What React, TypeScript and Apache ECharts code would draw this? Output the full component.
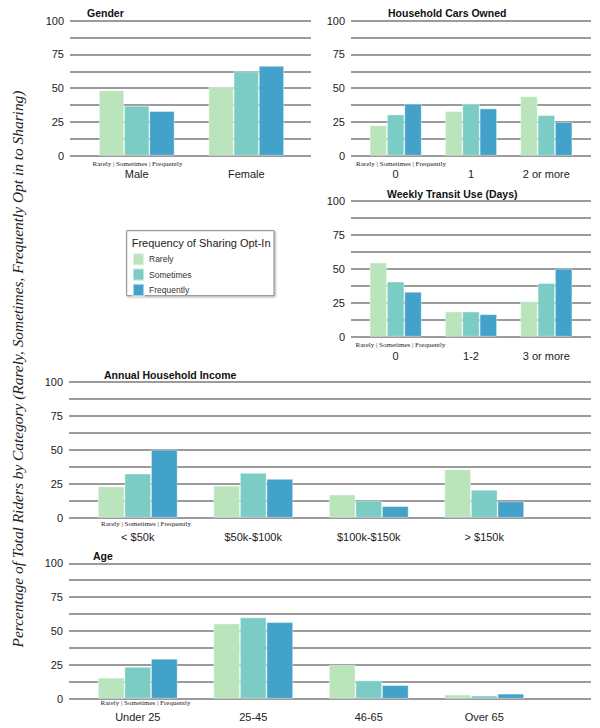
import React, { useEffect, useRef } from "react";
import * as echarts from "echarts";

const seriesNames = ["Rarely", "Sometimes", "Frequently"];
const seriesColors = ["#bae4bc", "#7bccc4", "#43a2ca"];
const minorGridValues = [12.5, 37.5, 62.5, 87.5];

const genderCats = ["Male", "Female"];
const genderRarely = [48.5, 51];
const genderSometimes = [37, 62.5];
const genderFrequently = [33, 66.5];

const carsCats = ["0", "1", "2 or more"];
const carsRarely = [22.5, 33, 44];
const carsSometimes = [30.5, 38.5, 30];
const carsFrequently = [38.5, 35, 25];

const transitCats = ["0", "1-2", "3 or more"];
const transitRarely = [54.5, 18.5, 26];
const transitSometimes = [40.5, 18.5, 39.5];
const transitFrequently = [33, 16.5, 50];

const incomeCats = ["< $50k", "$50k-$100k", "$100k-$150k", "> $150k"];
const incomeRarely = [23, 23.5, 17, 35.5];
const incomeSometimes = [32.5, 33, 12.5, 20.5];
const incomeFrequently = [50, 28.5, 8.5, 12];

const ageCats = ["Under 25", "25-45", "46-65", "Over 65"];
const ageRarely = [15.5, 55.5, 25, 3];
const ageSometimes = [23.5, 60, 13.5, 2.3];
const ageFrequently = [29.5, 56.5, 10, 3.7];

const panelTitles = ["Gender", "Household Cars Owned", "Weekly Transit Use (Days)", "Annual Household Income", "Age"];
const subLabel = "Rarely | Sometimes | Frequently";
const legendTitle = "Frequency of Sharing Opt-In";
const yAxisTitle = "Percentage of Total Riders by Category (Rarely, Sometimes, Frequently Opt in to Sharing)";

const panelData = [
  { cats: genderCats, values: [genderRarely, genderSometimes, genderFrequently] },
  { cats: carsCats, values: [carsRarely, carsSometimes, carsFrequently] },
  { cats: transitCats, values: [transitRarely, transitSometimes, transitFrequently] },
  { cats: incomeCats, values: [incomeRarely, incomeSometimes, incomeFrequently] },
  { cats: ageCats, values: [ageRarely, ageSometimes, ageFrequently] },
];

// layout (pixels)
const layout = [
  { lineL: 70, lineR: 311, barL: 82, barR: 301, top: 20.7, bottom: 155.7, tx: 87, ty: 13, sx: 137.5, sy: 164, m: 13 },
  { lineL: 351, lineR: 591, barL: 358, barR: 584, top: 20.7, bottom: 155.7, tx: 388, ty: 13, sx: 401, sy: 164, m: 13 },
  { lineL: 351, lineR: 591, barL: 358, barR: 584, top: 200.7, bottom: 336.7, tx: 387, ty: 194, sx: 400.5, sy: 344.5, m: 13.5 },
  { lineL: 69, lineR: 591, barL: 80, barR: 542, top: 381.7, bottom: 517.7, tx: 104, ty: 375, sx: 146, sy: 523.5, m: 13.5 },
  { lineL: 69, lineR: 591, barL: 80, barR: 542, top: 563.3, bottom: 698.7, tx: 93, ty: 556, sx: 145.5, sy: 703, m: 12.5 },
];

const SANS = "Liberation Sans";
const SERIF = "Liberation Serif";
const GRID_LINE = { color: "#7a7a7a", width: 1.5 };

export default function App() {
  const ref = useRef<HTMLDivElement>(null);
  useEffect(() => {
    if (!ref.current) return;
    const chart = echarts.init(ref.current, undefined, { renderer: "svg" });
    const grids: any[] = [];
    const xAxes: any[] = [];
    const yAxes: any[] = [];
    const series: any[] = [];
    const graphics: any[] = [];

    layout.forEach((p, i) => {
      const d = panelData[i];
      grids.push({ left: p.lineL, top: p.top, width: p.lineR - p.lineL, height: p.bottom - p.top });
      grids.push({ left: p.barL, top: p.top, width: p.barR - p.barL, height: p.bottom - p.top });
      xAxes.push({ type: "category", gridIndex: 2 * i, data: ["a"], show: false });
      xAxes.push({
        type: "category",
        gridIndex: 2 * i + 1,
        data: d.cats,
        axisLine: { show: false },
        axisTick: { show: false },
        axisLabel: { interval: 0, fontSize: 11, color: "#222", fontFamily: SANS, margin: p.m },
      });
      yAxes.push({
        type: "value",
        gridIndex: 2 * i,
        min: 0,
        max: 100,
        interval: 25,
        axisLine: { show: false },
        axisTick: { show: false },
        axisLabel: { fontSize: 11, color: "#222", fontFamily: SANS, margin: 6 },
        splitLine: { show: true, lineStyle: GRID_LINE },
      });
      yAxes.push({ type: "value", gridIndex: 2 * i + 1, min: 0, max: 100, show: false });
      // minor gridlines through the panel's own value scale
      series.push({
        type: "line",
        name: "grid" + i,
        xAxisIndex: 2 * i,
        yAxisIndex: 2 * i,
        data: [null],
        silent: true,
        symbol: "none",
        z: 0,
        markLine: {
          silent: true,
          z: 0,
          symbol: ["none", "none"],
          label: { show: false },
          lineStyle: { type: "solid", color: GRID_LINE.color, width: GRID_LINE.width },
          data: minorGridValues.map((v) => ({ yAxis: v })),
        },
      });
      seriesNames.forEach((name, k) => {
        series.push({
          type: "bar",
          name,
          xAxisIndex: 2 * i + 1,
          yAxisIndex: 2 * i + 1,
          data: d.values[k],
          barGap: "0%",
          barCategoryGap: "31%",
          z: 10,
          itemStyle: { color: seriesColors[k], borderColor: "rgba(255,255,255,0.5)", borderWidth: 0.8 },
        });
      });
      graphics.push({
        type: "text",
        x: p.tx,
        y: p.ty,
        style: { text: panelTitles[i], font: `bold 10.5px "${SANS}"`, fill: "#111", textVerticalAlign: "middle" },
      });
      graphics.push({
        type: "text",
        x: p.sx,
        y: p.sy,
        style: { text: subLabel, font: `7px "${SERIF}"`, fill: "#222", textAlign: "center", textVerticalAlign: "middle" },
      });
    });

    graphics.push({
      type: "rect",
      shape: { x: 126.7, y: 230.7, width: 147.3, height: 65 },
      style: { fill: "#fff", stroke: "#8a8a8a", lineWidth: 1, shadowBlur: 2, shadowOffsetX: 1, shadowOffsetY: 1, shadowColor: "rgba(0,0,0,0.35)" },
      z: -1,
    });
    graphics.push({
      type: "text",
      x: 131.7,
      y: 243.3,
      style: { text: legendTitle, font: `11px "${SANS}"`, fill: "#222", textVerticalAlign: "middle" },
    });
    graphics.push({
      type: "text",
      x: 17,
      y: 369,
      rotation: Math.PI / 2,
      style: { text: yAxisTitle, font: `italic 15.4px "${SERIF}"`, fill: "#222", textAlign: "center", textVerticalAlign: "middle" },
    });

    chart.setOption({
      animation: false,
      backgroundColor: "#fff",
      textStyle: { fontFamily: SANS },
      grid: grids,
      xAxis: xAxes,
      yAxis: yAxes,
      series,
      legend: {
        data: seriesNames,
        orient: "vertical",
        left: 132,
        top: 252.3,
        itemWidth: 11,
        itemHeight: 12,
        itemGap: 1.3,
        padding: 0,
        icon: "rect",
        selectedMode: false,
        textStyle: { fontSize: 8.5, color: "#333", fontFamily: SANS },
      },
      graphic: graphics,
    });
    return () => chart.dispose();
  }, []);
  return <div ref={ref} style={{ position: "absolute", left: 0, top: 0, width: 600, height: 728 }} />;
}
